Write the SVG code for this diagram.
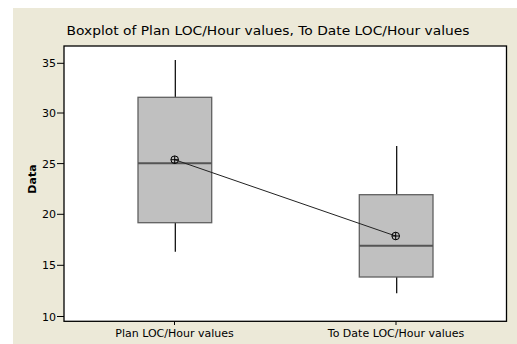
<svg xmlns="http://www.w3.org/2000/svg" width="517" height="344" viewBox="0 0 517 344">
<style>
.t{font-family:"DejaVu Sans","Liberation Sans",sans-serif;fill:#000}
.ax{font-size:11px}
.tk{stroke:#000;stroke-width:1}
.box{fill:#c0c0c0;stroke:#606060;stroke-width:1.3}
.wh{stroke:#000;stroke-width:1.2}
.med{stroke:#555;stroke-width:2}
.mean{fill:none;stroke:#000;stroke-width:1}
</style>
<rect x="0" y="0" width="517" height="344" fill="#fff"/>
<rect x="13" y="8" width="504" height="336" fill="#ece9d8"/>
<text class="t" x="268" y="35" font-size="13" text-anchor="middle" textLength="403" lengthAdjust="spacingAndGlyphs">Boxplot of Plan LOC/Hour values, To Date LOC/Hour values</text>
<rect x="64" y="46" width="442.5" height="275.3" fill="#fff" stroke="#000" stroke-width="1.3"/>
<g id="yaxis">
<line class="tk" x1="57" y1="63.3" x2="64" y2="63.3"/>
<line class="tk" x1="57" y1="113" x2="64" y2="113"/>
<line class="tk" x1="57" y1="163.6" x2="64" y2="163.6"/>
<line class="tk" x1="57" y1="214.3" x2="64" y2="214.3"/>
<line class="tk" x1="57" y1="265.3" x2="64" y2="265.3"/>
<line class="tk" x1="57" y1="316.5" x2="64" y2="316.5"/>
<text class="t ax" x="56" y="67.3" text-anchor="end">35</text>
<text class="t ax" x="56" y="117" text-anchor="end">30</text>
<text class="t ax" x="56" y="167.6" text-anchor="end">25</text>
<text class="t ax" x="56" y="218.3" text-anchor="end">20</text>
<text class="t ax" x="56" y="269.3" text-anchor="end">15</text>
<text class="t ax" x="56" y="320.5" text-anchor="end">10</text>
<text class="t" x="0" y="0" font-size="11" font-weight="bold" text-anchor="middle" transform="translate(35.5,179) rotate(-90)">Data</text>
</g>
<g id="xaxis">
<line class="tk" x1="174.5" y1="321" x2="174.5" y2="325"/>
<line class="tk" x1="396" y1="321" x2="396" y2="325"/>
<text class="t ax" x="174.5" y="337" text-anchor="middle">Plan LOC/Hour values</text>
<text class="t ax" x="396" y="337" text-anchor="middle">To Date LOC/Hour values</text>
</g>
<g id="box-plan">
<line class="wh" x1="175.3" y1="60" x2="175.3" y2="97.3"/>
<line class="wh" x1="175.3" y1="222.7" x2="175.3" y2="251.7"/>
<rect class="box" x="138" y="97.3" width="73.7" height="125.4"/>
<line class="med" x1="138" y1="163.3" x2="211.7" y2="163.3"/>
</g>
<g id="box-todate">
<line class="wh" x1="396.7" y1="146" x2="396.7" y2="194.7"/>
<line class="wh" x1="396.7" y1="277" x2="396.7" y2="293.3"/>
<rect class="box" x="359.3" y="194.7" width="73.7" height="82.3"/>
<line class="med" x1="359.3" y1="245.7" x2="433" y2="245.7" stroke-width="1.3" stroke="#333"/>
</g>
<g id="connectors">
<line x1="174.7" y1="159.7" x2="395.7" y2="236" stroke="#222" stroke-width="1"/>
</g>
<g id="means">
<circle class="mean" cx="174.7" cy="159.7" r="3.8"/>
<line class="mean" x1="170.9" y1="159.7" x2="178.5" y2="159.7"/>
<line class="mean" x1="174.7" y1="155.9" x2="174.7" y2="163.5"/>
<circle class="mean" cx="395.7" cy="236" r="3.8"/>
<line class="mean" x1="391.9" y1="236" x2="399.5" y2="236"/>
<line class="mean" x1="395.7" y1="232.2" x2="395.7" y2="239.8"/>
</g>
</svg>
